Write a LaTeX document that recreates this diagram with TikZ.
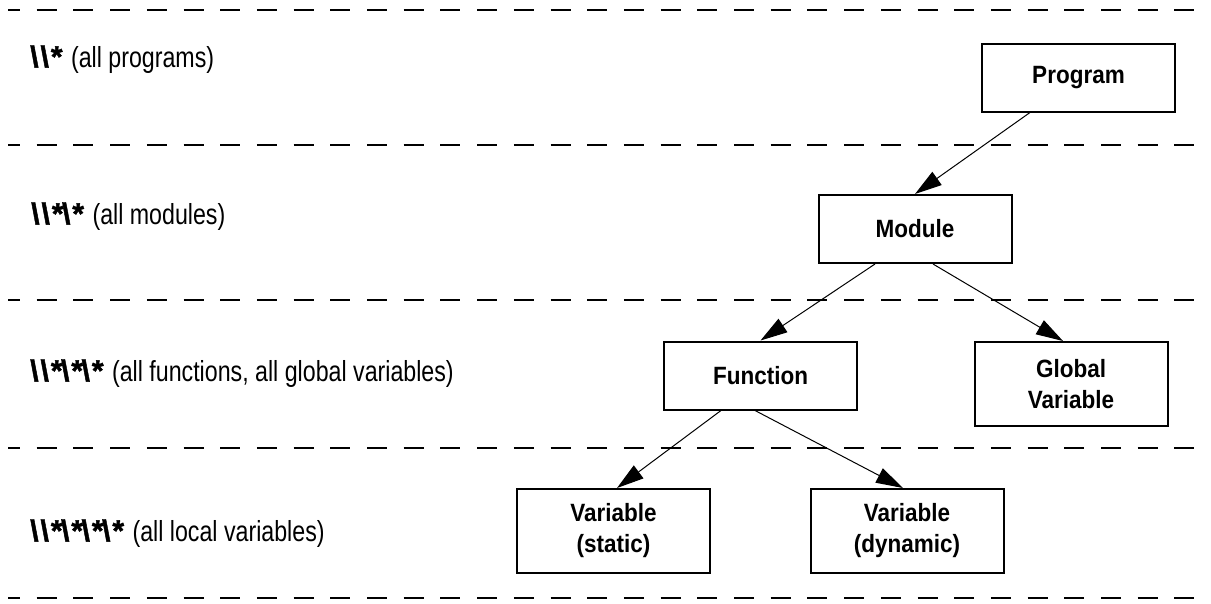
\documentclass[tikz,border=0pt]{standalone}
\usepackage{fontspec}
\setmainfont{Liberation Sans}
\newfontfamily\lblfont{Liberation Sans}[FakeStretch=0.8]
\newfontfamily\boxfont{Liberation Sans}[FakeStretch=0.9]
\newfontfamily\bsfont{Liberation Sans}[BoldFeatures={FakeBold=1.5}]
\usetikzlibrary{arrows.meta}
\newcommand\mybs{{\bsfont\bfseries\fontsize{30}{30}\selectfont\textbackslash}\kern2pt}
\newcommand\myst{{\bsfont\bfseries\fontsize{30}{30}\selectfont *}\kern-1.5pt}
\newcommand\mygap{\hspace{10pt}}
\begin{document}
\begin{tikzpicture}[x=1pt,y=-1pt,
 box/.style={draw, line width=2pt, minimum width=193pt, minimum height=68pt, inner sep=0pt, align=center,
   font=\boxfont\bfseries\fontsize{25}{31}\selectfont},
 tall/.style={box, minimum height=84pt},
 sep/.style={line width=2pt, dash pattern=on 20pt off 16.7pt, dash phase=8pt},
 lbl/.style={anchor=base west, inner sep=0pt, font=\lblfont\fontsize{29}{30}\selectfont},
 conn/.style={line width=1pt, -{Triangle[length=27pt,width=16pt]}}]
\useasboundingbox (0,0) rectangle (1211,603);
% separators
\draw[sep] (8,10) -- (1211,10);
\draw[sep] (8,145) -- (1211,145);
\draw[sep] (8,300) -- (1211,300);
\draw[sep] (8,448) -- (1211,448);
\draw[sep] (8,598) -- (1211,598);
% level labels
\node[lbl] (l1) at (30,67) {\mybs\mybs\myst\mygap(all programs)};
\node[lbl] (l2) at (31,224) {\mybs\mybs\myst\mybs\myst\mygap(all modules)};
\node[lbl] (l3) at (30,381) {\mybs\mybs\myst\mybs\myst\mybs\myst\mygap(all functions, all global variables)};
\node[lbl] (l4) at (30,541) {\mybs\mybs\myst\mybs\myst\mybs\myst\mybs\myst\mygap(all local variables)};
% boxes
\node[box] (pgm) at (1078.5,77.5) {Program};
\node[box] (mod) at (915,229) {Module};
\node[box] (fun) at (760.5,375.5) {Function};
\node[tall] (glo) at (1071,384) {Global\\Variable};
\node[tall] (vst) at (613.5,531) {Variable\\(static)};
\node[tall] (vdy) at (907,531) {Variable\\(dynamic)};
% connectors
\draw[conn] ([xshift=-48.5pt]pgm.south) -- (mod.north);
\draw[conn] ([xshift=-40pt]mod.south) -- (fun.north);
\draw[conn] ([xshift=18pt]mod.south) -- ([xshift=-8pt]glo.north);
\draw[conn] ([xshift=-39.5pt]fun.south) -- ([xshift=3.5pt]vst.north);
\draw[conn] ([xshift=-5.5pt]fun.south) -- ([xshift=-4pt]vdy.north);
\end{tikzpicture}
\end{document}
